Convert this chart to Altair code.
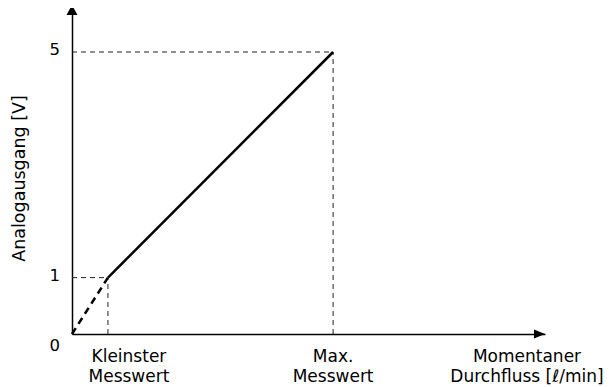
import altair as alt
import pandas as pd

# ---- data ----
volt_levels = [0, 1, 5]                 # analog output [V]
flow_positions = [0, 7.6, 55.2]         # origin, smallest measured value, max measured value
x_max = 100
y_max = 5.78
ytick_labels = ["0", "1", "5"]
xtick_labels = ["Kleinster\nMesswert", "Max.\nMesswert", "Momentaner\nDurchfluss [ℓ/min]"]
y_title = "Analogausgang [V]"

FONT = "DejaVu Sans"

xs = alt.Scale(domain=[0, x_max], nice=False, zero=False)
ys = alt.Scale(domain=[0, y_max], nice=False, zero=False)

solid_df = pd.DataFrame({"x": flow_positions[1:], "y": volt_levels[1:]})
dashed_df = pd.DataFrame({"x": flow_positions[:2], "y": volt_levels[:2]})
guide_df = pd.DataFrame({"x": flow_positions[1:], "y": volt_levels[1:],
                         "x0": [0, 0], "y0": [0, 0]})

X = lambda f: alt.X(f, type="quantitative", scale=xs,
                    axis=alt.Axis(domain=True, ticks=False, labels=False, grid=False,
                                  title=None, domainColor="black", domainWidth=1.5))
Y = lambda f: alt.Y(f, type="quantitative", scale=ys,
                    axis=alt.Axis(domain=True, ticks=False, labels=False, grid=False,
                                  title=y_title, titleAngle=270, titleX=-48, titleY=170,
                                  titleAlign="center", titleBaseline="alphabetic",
                                  titleFont=FONT, titleFontSize=17.5,
                                  titleFontWeight="normal", titleColor="black",
                                  domainColor="black", domainWidth=1.5))

base_axes = alt.Chart(pd.DataFrame({"x": [0], "y": [0]})).mark_point(opacity=0).encode(
    x=X("x"), y=Y("y"))

h_guides = alt.Chart(guide_df).mark_rule(color="#222", strokeWidth=1, strokeDash=[5, 4]).encode(
    x=alt.X("x0:Q", scale=xs), x2="x", y=alt.Y("y:Q", scale=ys))
v_guides = alt.Chart(guide_df).mark_rule(color="#222", strokeWidth=1, strokeDash=[5, 4]).encode(
    x=alt.X("x:Q", scale=xs), y=alt.Y("y0:Q", scale=ys), y2="y")

solid = alt.Chart(solid_df).mark_line(color="black", strokeWidth=2.5).encode(
    x=alt.X("x:Q", scale=xs), y=alt.Y("y:Q", scale=ys))
dashed = alt.Chart(dashed_df).mark_line(color="black", strokeWidth=2.5, strokeDash=[7, 5]).encode(
    x=alt.X("x:Q", scale=xs), y=alt.Y("y:Q", scale=ys))

up_arrow = alt.Chart(pd.DataFrame({"x": [0], "y": [y_max]})).mark_point(
    shape="M0,-0.6L1.1,1.4L-1.1,1.4Z", size=100, filled=True, color="black", opacity=1,
    strokeWidth=0).encode(x=alt.X("x:Q", scale=xs), y=alt.Y("y:Q", scale=ys))
right_arrow = alt.Chart(pd.DataFrame({"x": [x_max], "y": [0]})).mark_point(
    shape="M0,0L-2.2,-0.9L-2.2,0.9Z", size=100, filled=True, color="black", opacity=1,
    strokeWidth=0).encode(x=alt.X("x:Q", scale=xs), y=alt.Y("y:Q", scale=ys))

ylab_df = pd.DataFrame({"y": volt_levels[1:], "t": ytick_labels[1:]})
ylabels = alt.Chart(ylab_df).mark_text(
    align="right", baseline="middle", dx=-12, dy=-1.5, font=FONT, fontSize=16.5,
    color="black").encode(x=alt.datum(0, scale=xs), y=alt.Y("y:Q", scale=ys), text="t:N")
zero_label = alt.Chart(pd.DataFrame({"y": volt_levels[:1], "t": ytick_labels[:1]})).mark_text(
    align="right", baseline="middle", dx=-12, dy=12, font=FONT, fontSize=16.5,
    color="black").encode(x=alt.datum(0, scale=xs), y=alt.Y("y:Q", scale=ys), text="t:N")

xlabel_x = [flow_positions[1], flow_positions[2], x_max]
xlabel_dx = [21, 0, -18]
xlabels = []
for xv, t, dx in zip(xlabel_x, xtick_labels, xlabel_dx):
    xlabels.append(alt.Chart(pd.DataFrame({"x": [xv], "t": [t]})).mark_text(
        align="center", baseline="alphabetic", dx=dx, dy=28, lineBreak="\n", lineHeight=20,
        font=FONT, fontSize=17, color="black").encode(
        x=alt.X("x:Q", scale=xs), y=alt.datum(0, scale=ys), text="t:N"))

chart = alt.layer(base_axes, h_guides, v_guides, dashed, solid, up_arrow, right_arrow,
                  ylabels, zero_label, *xlabels).properties(
    width=473, height=326,
    autosize=alt.AutoSizeParams(type="none"),
    padding={"left": 64, "top": 0, "right": 62, "bottom": 53},
).configure(background="white").configure_view(strokeWidth=0, stroke="transparent")

chart.save("out.html", embed_options={"renderer": "svg", "actions": False})
